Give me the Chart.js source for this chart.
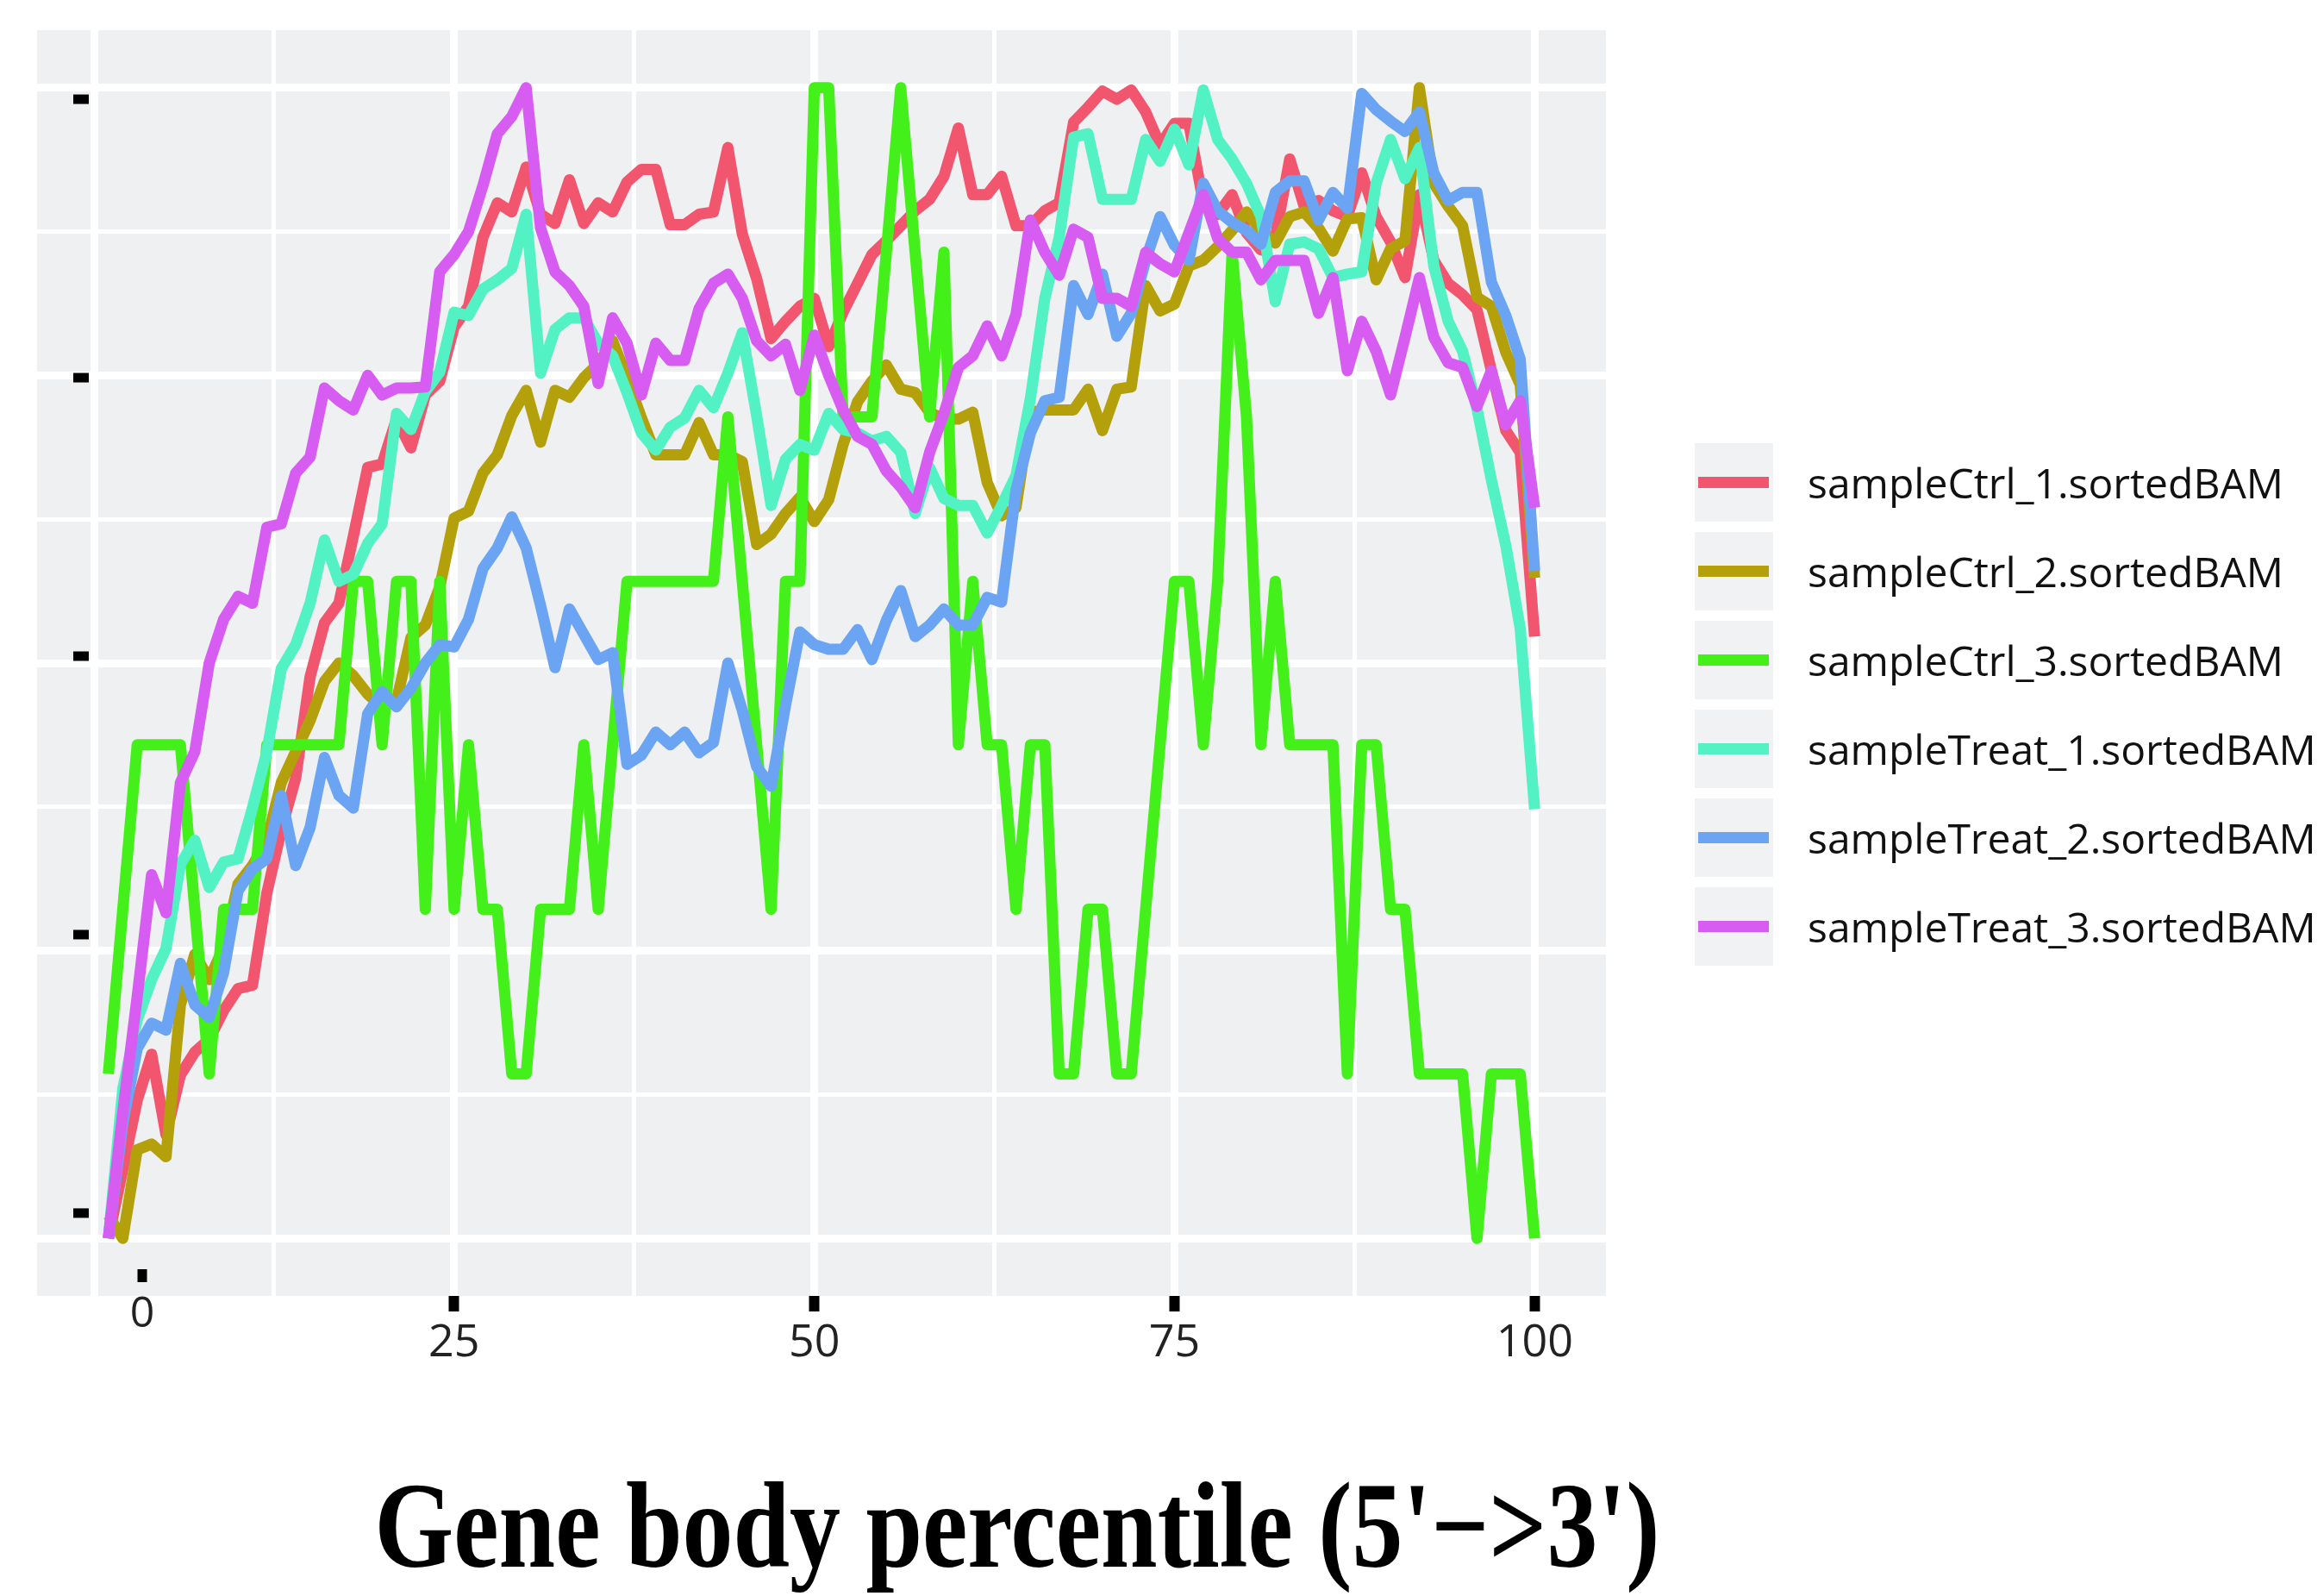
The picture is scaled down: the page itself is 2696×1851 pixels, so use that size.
<!DOCTYPE html>
<html>
<head>
<meta charset="utf-8">
<script src="https://cdn.jsdelivr.net/npm/chart.js@4.4.1/dist/chart.umd.min.js"></script>
<style>
  html, body { margin: 0; padding: 0; background: #fff; }
  #wrap { position: relative; width: 2696px; height: 1851px; overflow: hidden; }
  #chart { position: absolute; left: 0; top: 0; }
  .key { position: absolute; width: 91px; height: 91px; background: #f1f2f3; }
  .key span { position: absolute; left: 4px; width: 82px; top: 39px; height: 13px; }
  .label { position: absolute; font-family: 'Open Sans'; font-size: 48px; line-height: 48px; color: #111; white-space: nowrap; }
  #xtitle {
    position: absolute; left: 0; top: 1699px; width: 2360px; text-align: center;
    font-family: 'Liberation Serif'; font-weight: bold; font-size: 141px; line-height: 141px;
    color: #000; white-space: nowrap; transform: scaleX(0.836); transform-origin: 1180px 0;
  }
</style>
</head>
<body>
<div id="wrap">
  <canvas id="chart" width="2360" height="1851"></canvas>
  <div id="legend"></div>
  <div id="xtitle"></div>
</div>
<script>
// gene body percentile, 5' -> 3'
const percentile = [
  1, 2, 3, 4, 5, 6, 7, 8, 9, 10, 11, 12, 13, 14, 15, 16, 17, 18, 19, 20,
  21, 22, 23, 24, 25, 26, 27, 28, 29, 30, 31, 32, 33, 34, 35, 36, 37, 38, 39, 40,
  41, 42, 43, 44, 45, 46, 47, 48, 49, 50, 51, 52, 53, 54, 55, 56, 57, 58, 59, 60,
  61, 62, 63, 64, 65, 66, 67, 68, 69, 70, 71, 72, 73, 74, 75, 76, 77, 78, 79, 80,
  81, 82, 83, 84, 85, 86, 87, 88, 89, 90, 91, 92, 93, 94, 95, 96, 97, 98, 99, 100
];

const seriesNames = [
  'sampleCtrl_1.sortedBAM', 'sampleCtrl_2.sortedBAM', 'sampleCtrl_3.sortedBAM',
  'sampleTreat_1.sortedBAM', 'sampleTreat_2.sortedBAM', 'sampleTreat_3.sortedBAM'
];
const seriesColors = ['#f2566f', '#b4a00a', '#44f01a', '#52f2c5', '#6ba4f2', '#d65cf2'];
const xTitle = "Gene body percentile (5'\u2212>3')";

// normalised coverage
const ctrl1 = [
  0.000, 0.060, 0.120, 0.160, 0.090, 0.142, 0.162, 0.173, 0.198, 0.217,
  0.220, 0.300, 0.355, 0.400, 0.488, 0.535, 0.552, 0.610, 0.670, 0.673,
  0.712, 0.687, 0.733, 0.745, 0.792, 0.810, 0.870, 0.900, 0.892, 0.931,
  0.890, 0.882, 0.920, 0.882, 0.900, 0.892, 0.918, 0.929, 0.929, 0.881,
  0.881, 0.890, 0.892, 0.948, 0.873, 0.834, 0.782, 0.797, 0.810, 0.817,
  0.775, 0.805, 0.830, 0.855, 0.867, 0.880, 0.893, 0.903, 0.923, 0.965,
  0.907, 0.907, 0.923, 0.880, 0.880, 0.893, 0.900, 0.970, 0.983, 0.997,
  0.990, 0.998, 0.979, 0.950, 0.969, 0.969, 0.900, 0.890, 0.907, 0.874,
  0.859, 0.870, 0.938, 0.897, 0.902, 0.893, 0.888, 0.926, 0.888, 0.866,
  0.835, 0.907, 0.850, 0.830, 0.820, 0.807, 0.754, 0.702, 0.683, 0.523
];
const ctrl2 = [
  0.020, 0.000, 0.077, 0.082, 0.071, 0.203, 0.247, 0.225, 0.253, 0.308,
  0.324, 0.346, 0.396, 0.423, 0.450, 0.484, 0.500, 0.489, 0.473, 0.462,
  0.467, 0.522, 0.533, 0.566, 0.626, 0.632, 0.665, 0.681, 0.715, 0.737,
  0.692, 0.737, 0.731, 0.748, 0.760, 0.780, 0.748, 0.713, 0.681, 0.681,
  0.681, 0.709, 0.681, 0.681, 0.675, 0.603, 0.612, 0.630, 0.644, 0.623,
  0.642, 0.690, 0.727, 0.745, 0.759, 0.738, 0.735, 0.718, 0.712, 0.712,
  0.718, 0.657, 0.628, 0.635, 0.718, 0.720, 0.720, 0.720, 0.738, 0.702,
  0.738, 0.740, 0.828, 0.806, 0.812, 0.845, 0.850, 0.862, 0.876, 0.892,
  0.876, 0.865, 0.888, 0.892, 0.878, 0.858, 0.886, 0.887, 0.833, 0.860,
  0.867, 1.000, 0.917, 0.897, 0.880, 0.818, 0.810, 0.770, 0.742, 0.574
];
const ctrl3 = [
  0.143, 0.286, 0.429, 0.429, 0.429, 0.429, 0.286, 0.143, 0.286, 0.286,
  0.286, 0.429, 0.429, 0.429, 0.429, 0.429, 0.429, 0.571, 0.571, 0.429,
  0.571, 0.571, 0.286, 0.571, 0.286, 0.429, 0.286, 0.286, 0.143, 0.143,
  0.286, 0.286, 0.286, 0.429, 0.286, 0.429, 0.571, 0.571, 0.571, 0.571,
  0.571, 0.571, 0.571, 0.714, 0.571, 0.429, 0.286, 0.571, 0.571, 1.000,
  1.000, 0.714, 0.714, 0.714, 0.857, 1.000, 0.857, 0.714, 0.857, 0.429,
  0.571, 0.429, 0.429, 0.286, 0.429, 0.429, 0.143, 0.143, 0.286, 0.286,
  0.143, 0.143, 0.286, 0.429, 0.571, 0.571, 0.429, 0.571, 0.857, 0.714,
  0.429, 0.571, 0.429, 0.429, 0.429, 0.429, 0.143, 0.429, 0.429, 0.286,
  0.286, 0.143, 0.143, 0.143, 0.143, 0.000, 0.143, 0.143, 0.143, 0.000
];
const treat1 = [
  0.000, 0.130, 0.190, 0.225, 0.252, 0.325, 0.346, 0.305, 0.327, 0.330,
  0.374, 0.423, 0.495, 0.516, 0.552, 0.607, 0.571, 0.577, 0.604, 0.621,
  0.717, 0.703, 0.736, 0.753, 0.805, 0.802, 0.825, 0.833, 0.843, 0.890,
  0.752, 0.790, 0.800, 0.800, 0.778, 0.767, 0.735, 0.700, 0.685, 0.705,
  0.713, 0.737, 0.722, 0.752, 0.787, 0.715, 0.637, 0.677, 0.690, 0.685,
  0.717, 0.703, 0.700, 0.693, 0.697, 0.683, 0.630, 0.670, 0.643, 0.637,
  0.637, 0.613, 0.637, 0.663, 0.730, 0.817, 0.870, 0.957, 0.960, 0.903,
  0.903, 0.903, 0.955, 0.936, 0.964, 0.933, 0.998, 0.955, 0.938, 0.917,
  0.888, 0.814, 0.864, 0.866, 0.860, 0.835, 0.838, 0.840, 0.917, 0.955,
  0.921, 0.948, 0.845, 0.797, 0.771, 0.721, 0.659, 0.602, 0.530, 0.373
];
const treat2 = [
  0.000, 0.100, 0.165, 0.187, 0.181, 0.239, 0.203, 0.192, 0.231, 0.302,
  0.321, 0.330, 0.385, 0.324, 0.357, 0.418, 0.385, 0.374, 0.456, 0.475,
  0.462, 0.478, 0.500, 0.516, 0.514, 0.538, 0.582, 0.600, 0.627, 0.600,
  0.550, 0.496, 0.547, 0.525, 0.503, 0.509, 0.412, 0.420, 0.440, 0.429,
  0.440, 0.422, 0.431, 0.500, 0.459, 0.410, 0.393, 0.463, 0.527, 0.516,
  0.512, 0.512, 0.529, 0.503, 0.537, 0.563, 0.523, 0.533, 0.547, 0.533,
  0.533, 0.557, 0.553, 0.650, 0.700, 0.728, 0.731, 0.828, 0.803, 0.838,
  0.784, 0.804, 0.850, 0.888, 0.863, 0.850, 0.917, 0.893, 0.883, 0.876,
  0.864, 0.909, 0.919, 0.919, 0.885, 0.909, 0.895, 0.995, 0.981, 0.971,
  0.962, 0.979, 0.926, 0.902, 0.909, 0.909, 0.831, 0.802, 0.764, 0.580
];
const treat3 = [
  0.000, 0.110, 0.210, 0.316, 0.283, 0.396, 0.423, 0.500, 0.538, 0.558,
  0.552, 0.618, 0.621, 0.665, 0.679, 0.739, 0.728, 0.720, 0.750, 0.733,
  0.739, 0.739, 0.740, 0.840, 0.855, 0.875, 0.915, 0.960, 0.975, 1.000,
  0.878, 0.840, 0.828, 0.810, 0.743, 0.800, 0.778, 0.733, 0.778, 0.763,
  0.763, 0.808, 0.830, 0.838, 0.817, 0.780, 0.767, 0.777, 0.737, 0.785,
  0.750, 0.720, 0.697, 0.690, 0.667, 0.653, 0.635, 0.683, 0.717, 0.757,
  0.767, 0.793, 0.767, 0.803, 0.885, 0.857, 0.837, 0.877, 0.870, 0.817,
  0.817, 0.810, 0.857, 0.847, 0.840, 0.874, 0.907, 0.869, 0.857, 0.857,
  0.833, 0.850, 0.850, 0.850, 0.804, 0.835, 0.754, 0.797, 0.771, 0.733,
  0.783, 0.835, 0.783, 0.761, 0.757, 0.723, 0.754, 0.707, 0.728, 0.635
];
const seriesValues = [ctrl1, ctrl2, ctrl3, treat1, treat2, treat3];

// axis ticks
const xGridTicks = [0, 12.5, 25, 37.5, 50, 62.5, 75, 87.5, 100];
const xLabelled = [25, 50, 75, 100];
const yGridTicks = [0, 0.125, 0.25, 0.375, 0.5, 0.625, 0.75, 0.875, 1];
// the unlabelled y tick dashes sit a little off the grid in the original
const yMarkAt = [0.022, 0.264, 0.506, 0.748, 0.990];

const isMajor = (v, step) => Math.abs(v / step - Math.round(v / step)) < 1e-6;

// grey ggplot panel
const panelBackground = {
  id: 'panelBackground',
  beforeDraw(chart) {
    const { ctx, chartArea: a } = chart;
    ctx.save();
    ctx.fillStyle = '#eef0f1';
    ctx.fillRect(a.left, a.top, a.right - a.left, a.bottom - a.top);
    ctx.restore();
  }
};

// black tick dashes on the y side and the stray "0" label of the x axis
const axisMarks = {
  id: 'axisMarks',
  afterDraw(chart) {
    const { ctx, chartArea: a, scales: { x, y } } = chart;
    ctx.save();
    ctx.fillStyle = '#000';
    yMarkAt.forEach(v => {
      ctx.fillRect(a.left + 42, y.getPixelForValue(v) - 5.5, 18, 11);
    });
    const zx = x.getPixelForValue(0) + 56;
    ctx.fillRect(zx - 5.5, a.bottom - 31, 11, 15);
    ctx.font = '50px "Open Sans"';
    ctx.fillStyle = '#222';
    ctx.textAlign = 'center';
    ctx.textBaseline = 'middle';
    ctx.fillText('0', zx, a.bottom + 22);
    ctx.restore();
  }
};

const datasets = seriesNames.map((name, i) => ({
  label: name,
  data: percentile.map((p, j) => ({ x: p, y: seriesValues[i][j] })),
  borderColor: seriesColors[i],
  backgroundColor: seriesColors[i],
  order: seriesNames.length - i
}));

new Chart(document.getElementById('chart'), {
  type: 'line',
  data: { datasets },
  options: {
    responsive: false,
    animation: false,
    devicePixelRatio: 1,
    layout: { padding: { left: 43, right: 497, top: 35, bottom: 0 } },
    elements: {
      point: { radius: 0 },
      line: { borderWidth: 13, borderJoinStyle: 'round', tension: 0 }
    },
    scales: {
      x: {
        type: 'linear',
        min: -3.95,
        max: 104.95,
        afterBuildTicks: s => { s.ticks = xGridTicks.map(v => ({ value: v })); },
        afterFit: s => { s.height = 348; },
        border: { display: false },
        grid: {
          color: '#ffffff',
          lineWidth: c => isMajor(c.tick.value, 25) ? 9 : 5,
          tickColor: c => xLabelled.includes(c.tick.value) ? '#000' : 'rgba(0,0,0,0)',
          tickWidth: 12,
          tickLength: 18
        },
        ticks: {
          autoSkip: false,
          maxRotation: 0,
          padding: 6,
          color: '#222',
          font: { family: 'Open Sans', size: 52 },
          callback: v => xLabelled.includes(v) ? String(v) : ''
        }
      },
      y: {
        min: -0.05,
        max: 1.05,
        afterBuildTicks: s => { s.ticks = yGridTicks.map(v => ({ value: v })); },
        border: { display: false },
        grid: {
          color: '#ffffff',
          lineWidth: c => isMajor(c.tick.value, 0.25) ? 9 : 5,
          drawTicks: false
        },
        ticks: { display: false }
      }
    },
    plugins: {
      legend: { display: false },
      tooltip: { enabled: false }
    }
  },
  plugins: [panelBackground, axisMarks]
});

document.getElementById('xtitle').textContent = xTitle;

// ggplot-style legend with grey key boxes
const legend = document.getElementById('legend');
seriesNames.forEach((name, i) => {
  const cy = 559 + 103 * i;
  const key = document.createElement('div');
  key.className = 'key';
  key.style.left = '1966px';
  key.style.top = (cy - 45.5) + 'px';
  const stroke = document.createElement('span');
  stroke.style.background = seriesColors[i];
  key.appendChild(stroke);
  legend.appendChild(key);

  const text = document.createElement('div');
  text.className = 'label';
  text.style.left = '2097px';
  text.style.top = (cy - 23) + 'px';
  text.textContent = name;
  legend.appendChild(text);
});
</script>
</body>
</html>
